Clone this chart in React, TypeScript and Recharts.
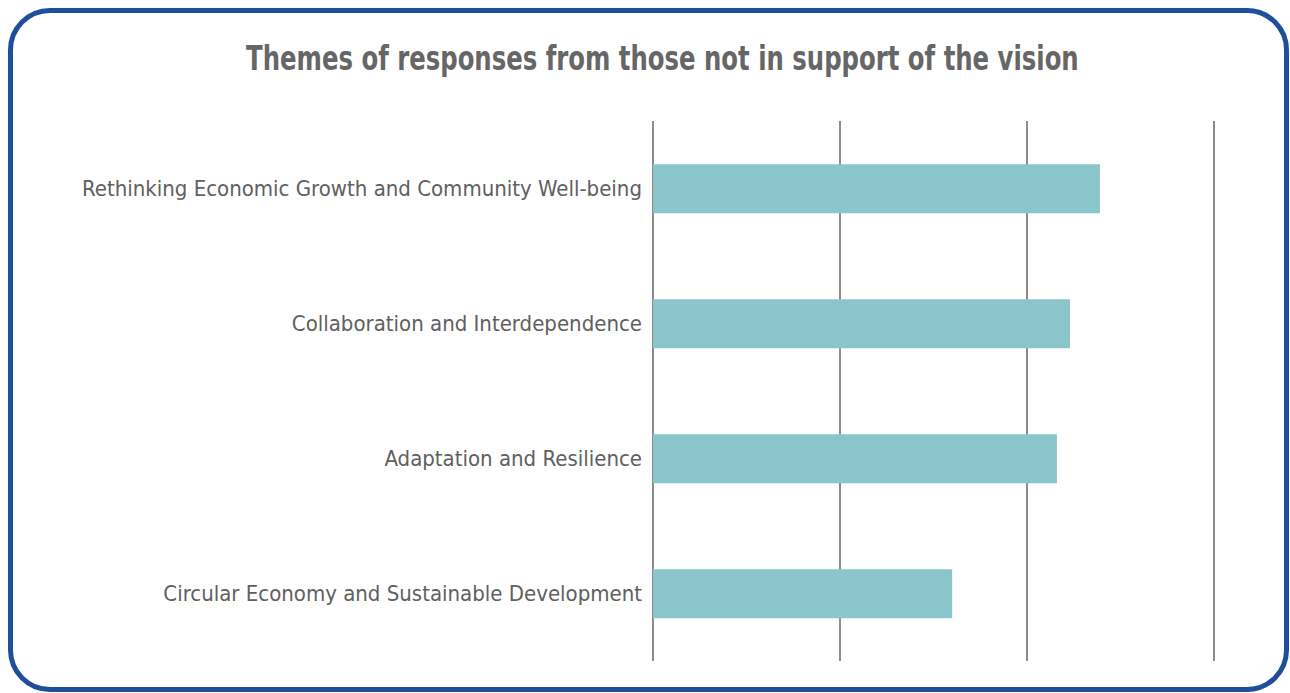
import { BarChart, Bar, XAxis, YAxis, CartesianGrid } from 'recharts';

const themes = [
    'Rethinking Economic Growth and Community Well-being',
    'Collaboration and Interdependence',
    'Adaptation and Resilience',
    'Circular Economy and Sustainable Development',
];
const counts = [23.9, 22.3, 21.6, 16.0];
const xTicks = [0, 10, 20, 30];

const data = themes.map((theme, i) => ({ theme, count: counts[i] }));

const FONT = '"Liberation Sans Narrow", "Arial Narrow", "DejaVu Sans Condensed", sans-serif';

export default function App() {
    return (
        <div style={{ position: 'absolute', left: 0, top: 0, width: 1290, height: 693, background: '#fff' }}>
            {/* rounded blue frame */}
            <div
                style={{
                    position: 'absolute',
                    left: 8,
                    top: 8,
                    width: 1281,
                    height: 684,
                    boxSizing: 'border-box',
                    border: '5px solid #1f4f9a',
                    borderRadius: 42,
                }}
            />
            <div
                style={{
                    position: 'absolute',
                    left: 0,
                    top: 39,
                    width: 1325,
                    textAlign: 'center',
                    fontFamily: FONT,
                    fontWeight: 700,
                    fontSize: 33,
                    color: '#666666',
                    transform: 'scaleX(0.82)',
                    transformOrigin: '662px 0',
                }}
            >
                Themes of responses from those not in support of the vision
            </div>
            <div style={{ position: 'absolute', left: 0, top: 0 }}>
                <BarChart
                    width={1290}
                    height={693}
                    data={data}
                    layout="vertical"
                    margin={{ top: 121, right: 76, bottom: 32, left: 0 }}
                    barCategoryGap="32%"
                >
                    <CartesianGrid horizontal={false} stroke="#8c8c8c" strokeWidth={2} />
                    <XAxis type="number" domain={[0, 30]} ticks={xTicks} hide />
                    <YAxis
                        type="category"
                        dataKey="theme"
                        width={653}
                        axisLine={false}
                        tickLine={false}
                        tickMargin={5}
                        tick={{ fill: '#606060', fontFamily: FONT, fontSize: 22 }}
                    />
                    <Bar dataKey="count" fill="#8bc5cc" isAnimationActive={false} />
                </BarChart>
            </div>
        </div>
    );
}
